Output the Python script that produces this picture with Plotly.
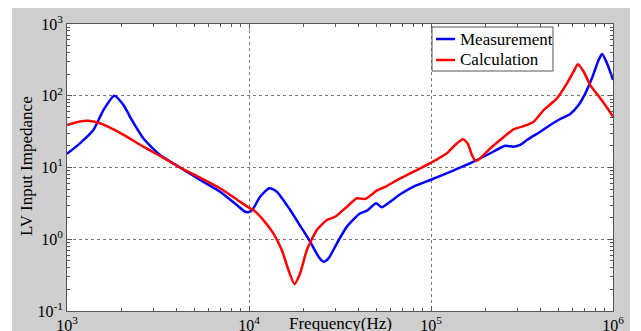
import plotly.graph_objects as go

# Measurement (blue) - frequency in Hz, impedance
meas_freq = [1000, 1178, 1396, 1585, 1820, 2042, 2270, 2624, 3243, 4178, 5383, 6934,
             8570, 9528, 10140, 10570, 11510, 12940, 14220, 16830, 19500, 21680, 24100,
             25650, 27350, 30410, 34510, 40830, 44460, 50000, 53700, 59700, 67800, 80200,
             99100, 127600, 171400, 211800, 255900, 284400, 309000, 336500, 398100, 451900,
             512900, 582100, 647100, 704700, 765600, 833700, 871000, 926800, 1000000]
meas_z = [15.5, 21.7, 33.3, 63, 100, 74.3, 45.9, 25.5, 14.9, 10.0, 6.7, 4.6,
          3.0, 2.42, 2.42, 2.70, 3.92, 5.13, 4.60, 2.56, 1.42, 0.925, 0.571,
          0.486, 0.542, 0.877, 1.50, 2.30, 2.50, 3.17, 2.79, 3.34, 4.23, 5.41,
          6.70, 8.71, 12.05, 15.8, 20.1, 19.5, 20.6, 24.2, 31.5, 39.1,
          47.4, 55.7, 74.3, 108, 175, 315, 382, 283, 166]

# Calculation (red)
calc_freq = [1000, 1038, 1148, 1309, 1517, 1799, 2128, 2624, 3243, 4178, 5383, 6934,
             8933, 10140, 10570, 11990, 13610, 15140, 16480, 17780, 19100, 20800, 23600,
             26790, 29720, 34510, 39170, 43450, 50350, 57150, 66220, 80200, 99100, 122200,
             135800, 149600, 158900, 167900, 176600, 186200, 211800, 239900, 284400, 322800,
             366400, 415900, 492000, 558500, 606700, 641200, 690200, 749900, 851100, 946200,
             1000000]
calc_z = [39.1, 40.0, 43.2, 44.9, 41.3, 34.0, 26.9, 19.5, 14.5, 10.0, 7.21, 5.13,
          3.33, 2.70, 2.56, 1.85, 1.21, 0.708, 0.372, 0.238, 0.336, 0.708, 1.35,
          1.85, 2.06, 2.84, 3.72, 3.64, 4.75, 5.52, 6.84, 8.73, 11.5, 15.8,
          20.6, 24.7, 21.7, 14.9, 12.3, 13.4, 18.5, 24.2, 34.0, 37.8,
          43.5, 63.2, 92.0, 149, 216, 274, 216, 141, 92, 63.2,
          51]

x_tickvals = [1e3, 1e4, 1e5, 1e6]
x_ticktext = ["10<sup>3</sup>", "10<sup>4</sup>", "10<sup>5</sup>", "10<sup>6</sup>"]
y_tickvals = [0.1, 1, 10, 100, 1000]
y_ticktext = ["10<sup>-1</sup>", "10<sup>0</sup>", "10<sup>1</sup>", "10<sup>2</sup>", "10<sup>3</sup>"]

series_names = ["Measurement", "Calculation"]
series_colors = ["#0000ff", "#ff0000"]

x_title = "Frequency(Hz)"
y_title = "LV Input Impedance"

FONT = "Liberation Serif, Times New Roman, serif"

fig = go.Figure()
fig.add_trace(go.Scatter(x=meas_freq, y=meas_z, mode="lines", name=series_names[0],
                         line=dict(color=series_colors[0], width=2.5, shape="spline", smoothing=0.6)))
fig.add_trace(go.Scatter(x=calc_freq, y=calc_z, mode="lines", name=series_names[1],
                         line=dict(color=series_colors[1], width=2.5, shape="spline", smoothing=0.6)))

axis_common = dict(
    type="log",
    showline=True, linecolor="#555555", linewidth=1, mirror="allticks",
    ticks="inside", ticklen=5, tickcolor="#555555",
    showgrid=True, gridcolor="#777777", griddash="dot", gridwidth=1,
    minor=dict(ticks="inside", ticklen=3, tickcolor="#555555", dtick="D1", showgrid=False),
    tickfont=dict(family=FONT, size=16, color="black"),
    zeroline=False, automargin=False,
)

fig.update_xaxes(range=[3, 6], tickmode="array", tickvals=x_tickvals, ticktext=x_ticktext,
                 **axis_common)
fig.update_yaxes(range=[-1, 3], tickmode="array", tickvals=y_tickvals, ticktext=y_ticktext,
                 **axis_common)

# legend drawn in the box at the top right of the plot area (paper coordinates)
leg_box = dict(x0=0.6685, x1=0.8901, y0=0.8362, y1=0.9895)
leg_rows_y = [0.9477, 0.8746]
leg_line_x = [0.6758, 0.7106]
leg_text_x = 0.7161

shapes = [
    dict(type="rect", xref="paper", yref="paper", x0=-0.1007, x1=1.0311, y0=-0.08, y1=1.0557,
         fillcolor="#cecece", line=dict(width=0), layer="below"),
    dict(type="rect", xref="paper", yref="paper", x0=0, x1=1, y0=0, y1=1,
         fillcolor="white", line=dict(width=0), layer="below"),
    dict(type="rect", xref="paper", yref="paper", fillcolor="white",
         line=dict(color="#555555", width=1), layer="above", **leg_box),
]
annotations = [
    dict(text=x_title, xref="paper", yref="paper", x=0.5, y=-0.045, xanchor="center",
         yanchor="middle", showarrow=False, font=dict(family=FONT, size=17, color="black")),
    dict(text=y_title, xref="paper", yref="paper", x=-0.0751, y=0.505, xanchor="center",
         yanchor="middle", textangle=-90, showarrow=False,
         font=dict(family=FONT, size=17, color="black")),
]
for name, color, ry in zip(series_names, series_colors, leg_rows_y):
    shapes.append(dict(type="line", xref="paper", yref="paper", x0=leg_line_x[0], x1=leg_line_x[1],
                       y0=ry, y1=ry, line=dict(color=color, width=2.5), layer="above"))
    annotations.append(dict(text=name, xref="paper", yref="paper", x=leg_text_x, y=ry,
                            xanchor="left", yanchor="middle", showarrow=False,
                            font=dict(family=FONT, size=17, color="black")))

# page body has an 8px margin, so the figure fills the window from (8, 8)
fig.update_layout(
    width=633, height=323,
    margin=dict(l=59, r=28, t=16, b=20, autoexpand=False),
    paper_bgcolor="white", plot_bgcolor="white",
    font=dict(family=FONT, color="black"),
    showlegend=False,
    shapes=shapes,
    annotations=annotations,
)

fig.write_html("out.html")
